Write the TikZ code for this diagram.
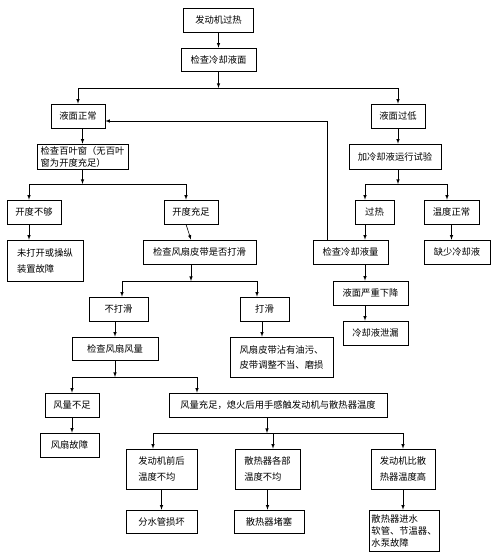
\documentclass[tikz,border=0pt]{standalone}
\usepackage{fontspec}
\setmainfont{Noto Sans CJK SC}
\usetikzlibrary{arrows}
\tikzset{box/.style={draw,rectangle,inner sep=0pt,minimum height=24pt}}

\begin{document}
\begin{tikzpicture}[x=1pt,y=-1pt,>=latex,line width=0.6pt,font=\fontsize{9.3}{12}\selectfont]
\useasboundingbox (0,0) rectangle (500,552);
\node[box,minimum width=70pt] (heat) at (218.5,20) {发动机过热};
\node[box,minimum width=75pt,minimum height=23pt] (level) at (218.5,59.5) {检查冷却液面};
\coordinate (ja) at (218.5,88);
\node[box,minimum width=54pt] (normal) at (78,116) {液面正常};
\node[box,minimum width=54pt] (low) at (398,116) {液面过低};
\node[box,align=left,minimum width=91pt,minimum height=25pt] (louver) at (82.5,156.5) {检查百叶窗（无百叶\\窗为开度充足）};
\node[box,minimum width=92pt,minimum height=25pt] (refill) at (395,156.5) {加冷却液运行试验};
\coordinate (jb) at (82.5,184);
\coordinate (jc) at (398,184);
\node[box,minimum width=54pt] (narrow) at (34,212) {开度不够};
\node[box,minimum width=54pt] (wide) at (191,212) {开度充足};
\node[box,minimum width=39pt] (hot) at (374.5,212) {过热};
\node[box,minimum width=55pt] (normtemp) at (451.5,212) {温度正常};
\node[box,align=left,minimum width=76pt,minimum height=41pt] (closed) at (45,260.5) {未打开或操纵\\[4pt]装置故障};
\node[box,minimum width=113pt] (belt) at (199.5,252) {检查风扇皮带是否打滑};
\node[box,minimum width=75pt] (amount) at (350.5,252) {检查冷却液量};
\node[box,minimum width=66pt] (lack) at (457,252) {缺少冷却液};
\node[box,minimum width=75pt] (drop) at (370.5,293) {液面严重下降};
\node[box,minimum width=65pt] (leak) at (375.5,333) {冷却液泄漏};
\coordinate (jd) at (191,281);
\node[box,minimum width=59pt] (noslip) at (118.5,309) {不打滑};
\node[box,minimum width=49pt] (slip) at (264.5,309) {打滑};
\node[box,minimum width=86pt,minimum height=23pt] (fan) at (115,348.5) {检查风扇风量};
\node[box,align=left,minimum width=103pt,minimum height=40pt] (dirty) at (281.5,357) {风扇皮带沾有油污、\\[3pt]皮带调整不当、磨损};
\coordinate (je) at (115,377);
\node[box,minimum width=54pt] (weak) at (72,405) {风量不足};
\node[box,minimum width=218pt] (strong) at (278,405) {风量充足，熄火后用手感触发动机与散热器温度};
\node[box,minimum width=59pt] (fanfault) at (69.5,445) {风扇故障};
\coordinate (jf) at (267,433);
\node[box,align=left,minimum width=71pt,minimum height=40pt] (uneven) at (161.5,469) {发动机前后\\[4pt]温度不均};
\node[box,align=left,minimum width=65pt,minimum height=40pt] (radiator) at (267.5,469) {散热器各部\\[4pt]温度不均};
\node[box,align=left,minimum width=64pt,minimum height=40pt] (hotter) at (403,469) {发动机比散\\[4pt]热器温度高};
\node[box,minimum width=71pt,minimum height=23pt] (pipe) at (161.5,521.5) {分水管损坏};
\node[box,minimum width=70pt,minimum height=23pt] (clog) at (269,521.5) {散热器堵塞};
\node[box,align=left,minimum width=70pt,minimum height=41pt] (hose) at (404,530.5) {散热器进水\\软管、节温器、\\水泵故障};

\draw[->] (heat) -- (level);
\draw[->] (level) -- (ja);
\draw[->] (ja) -| (normal);
\draw[->] (ja) -| (low);
\draw[->] (normal.south -| louver) -- (louver);
\draw[->] (low) -- (low |- refill.north);
\draw[->] (louver) -- (jb);
\draw[->] (jb) -| ([xshift=-5pt]narrow.north);
\draw[->] (jb) -| ([xshift=-5pt]wide.north);
\draw[->] (refill.south -| jc) -- (jc);
\draw[->] (jc) -| ([xshift=-9.5pt]hot.north);
\draw[->] (jc) -| ([xshift=-4.5pt]normtemp.north);
\draw[->] ([xshift=-5pt]narrow.south) -- ([xshift=-16pt]closed.north);
\draw[->] ([xshift=-5pt]wide.south) -- ([xshift=-8.5pt]belt.north);
\draw[->] ([xshift=-9.5pt]hot.south) -- ([xshift=14.5pt]amount.north);
\draw[->] (normtemp) -- (normtemp |- lack.north);
\draw[->] ([xshift=14.5pt]amount.south) -- ([xshift=-5.5pt]drop.north);
\draw[->] ([xshift=-5.5pt]drop.south) -- ([xshift=-10.5pt]leak.north);
\draw[->] ([xshift=-23.5pt]amount.north) |- ([yshift=-5pt]normal.east);
\draw[->] ([xshift=-8.5pt]belt.south) -- (jd);
\draw[->] (jd) -| ([xshift=3.5pt]noslip.north);
\draw[->] (jd) -| ([xshift=-7.5pt]slip.north);
\draw[->] (fan |- noslip.south) -- (fan);
\draw[->] ([xshift=-2.5pt]slip.south) -- ([xshift=-19.5pt]dirty.north);
\draw[->] (fan) -- (je);
\draw[->] (je) -| (weak);
\draw[->] (je) -| ([xshift=-81pt]strong.north);
\draw[->] (weak) -- (weak |- fanfault.north);
\draw[->] ([xshift=-11pt]strong.south) -- (jf);
\draw[->] (jf) -| ([xshift=-8.5pt]uneven.north);
\draw[->] (jf) -| ([xshift=5.5pt]radiator.north);
\draw[->] (jf) -| (hotter);
\draw[->] (uneven) -- (pipe);
\draw[->] (radiator) -- (radiator |- clog.north);
\draw[->] (hotter) -- (hotter |- hose.north);
\end{tikzpicture}
\end{document}
